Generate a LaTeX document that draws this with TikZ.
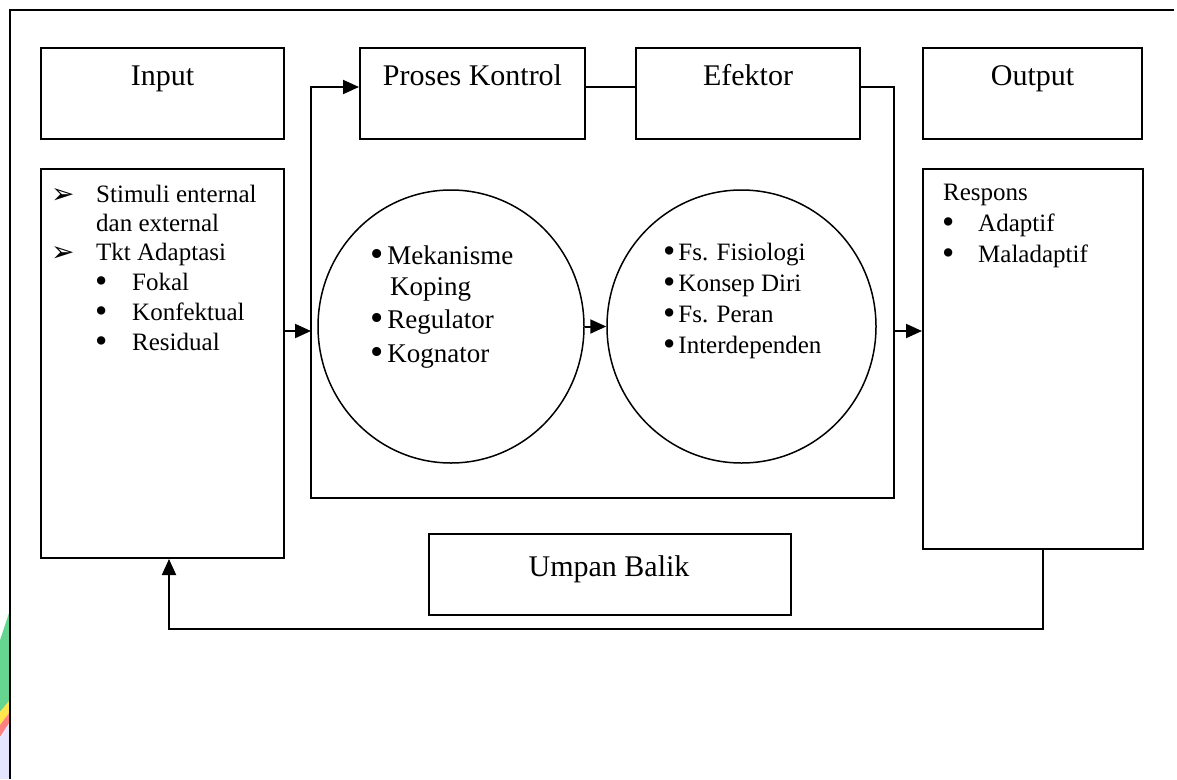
\documentclass[tikz,border=0pt]{standalone}
\usepackage{fontspec}
\setmainfont{Liberation Serif}
\newfontfamily\dejavu{DejaVu Sans}
\usetikzlibrary{arrows.meta,shapes.geometric,calc}
\newcommand{\bul}{\smash{\raisebox{-2.5pt}{\scalebox{1.4}{•}}}}
\begin{document}
\begin{tikzpicture}[x=1pt,y=-1pt,
  box/.style={draw,line width=2pt,rectangle,anchor=north west,inner sep=0pt},
  title/.style={font=\fontsize{30}{36}\selectfont,anchor=base,inner sep=0pt},
  txt/.style={font=\fontsize{25}{30}\selectfont,anchor=base west,inner sep=0pt},
  ctxt/.style={font=\fontsize{27}{32}\selectfont,anchor=base west,inner sep=0pt},
  arrowmark/.style={font=\dejavu\fontsize{28}{30}\selectfont,anchor=base west,inner sep=0pt},
  conn/.style={line width=2pt},
  arr/.style={conn,-{Triangle[length=16pt,width=14pt]}},
  bubble/.style={draw,ellipse,line width=1.5pt,inner sep=0pt}]
\useasboundingbox (0,0) rectangle (1177,779);
% watermark fragment at left edge
\begin{scope}
\clip (0,600) rectangle (9,779);
\fill[green!45!teal!60!white] (10,610) -- (10,700) -- (0,712) -- (0,640) -- cycle;
\fill[yellow!80!orange!70!white] (10,700) -- (10,712) -- (0,725) -- (0,712) -- cycle;
\fill[red!50!white] (10,712) -- (10,722) -- (0,737) -- (0,725) -- cycle;
\fill[blue!10!white] (10,722) -- (10,779) -- (0,779) -- (0,737) -- cycle;
\end{scope}
% outer frame (top and left edges)
\draw[conn] (1174,10) -- (10,10) -- (10,779);
% boxes
\node[box,minimum width=243pt,minimum height=91pt] (input) at (40,47) {};
\node[box,minimum width=243pt,minimum height=389pt] (inlist) at (40,168) {};
\node[box,minimum width=225pt,minimum height=91pt] (proses) at (359,47) {};
\node[box,minimum width=224pt,minimum height=91pt] (efektor) at (635,47) {};
\node[box,minimum width=219pt,minimum height=91pt] (output) at (922,47) {};
\node[box,minimum width=220pt,minimum height=380pt] (outlist) at (922,168) {};
\node[box,minimum width=362pt,minimum height=81pt] (umpan) at (428,533) {};
% titles
\node[title] (tin) at ($(input.north)+(0,38)$) {Input};
\node[title] (tpr) at ($(proses.north)+(0,38)$) {Proses Kontrol};
\node[title] (tef) at ($(efektor.north)+(0,38)$) {Efektor};
\node[title] (tout) at ($(output.north)+(0,38)$) {Output};
\node[title] (tub) at (609,576) {Umpan Balik};
% input list
\node[arrowmark] (m1) at (51,203) {➢};
\node[txt] (l1) at (96,202) {Stimuli enternal};
\node[txt] (l2) at (96,231) {dan external};
\node[arrowmark] (m2) at (51,261) {➢};
\node[txt] (l3) at (96,260) {Tkt Adaptasi};
\node[txt] (b1) at (95,290) {\bul};
\node[txt] (l4) at (132,290) {Fokal};
\node[txt] (b2) at (95,320) {\bul};
\node[txt] (l5) at (132,320) {Konfektual};
\node[txt] (b3) at (95,350) {\bul};
\node[txt] (l6) at (132,350) {Residual};
% output list
\node[txt] (r0) at (943,200) {Respons};
\node[txt] (rb1) at (942,231) {\bul};
\node[txt] (r1) at (978,231) {Adaptif};
\node[txt] (rb2) at (942,262) {\bul};
\node[txt] (r2) at (978,262) {Maladaptif};
% circles
\node[bubble,minimum width=266pt,minimum height=273pt] (c1) at (451,326.5) {};
\node[bubble,minimum width=269pt,minimum height=273pt] (c2) at (741.5,326.5) {};
\node[ctxt] (k1) at (370,264) {\bul\kern4pt Mekanisme};
\node[ctxt] (k2) at (390,295) {Koping};
\node[ctxt] (k3) at (370,328) {\bul\kern4pt Regulator};
\node[ctxt] (k4) at (370,362) {\bul\kern4pt Kognator};
\node[txt] (e1) at (663,260) {\bul\kern3pt Fs. Fisiologi};
\node[txt] (e2) at (663,291) {\bul\kern3pt Konsep Diri};
\node[txt] (e3) at (663,322) {\bul\kern3pt Fs. Peran};
\node[txt] (e4) at (663,353) {\bul\kern3pt Interdependen};
% helper coordinates
\coordinate (ly) at (0,87);
\coordinate (ay) at (0,331);
\coordinate (rbot) at (894,498);
\coordinate (ltop) at (311,87);
\coordinate (fb) at (1043,629);
\coordinate (fbl) at (169,629);
% connectors
\draw[conn] (proses.east |- ly) -- (efektor.west |- ly);
\draw[arr] (efektor.east |- ly) -| (rbot) -| (ltop) -- (proses.west |- ly);
\draw[arr] (inlist.east |- ay) -- (ltop |- ay);
\draw[arr] (c1.east) -- (c2.west);
\draw[arr] (rbot |- ay) -- (outlist.west |- ay);
\draw[arr] (outlist.south -| fb) |- (fbl) -- (inlist.south -| fbl);
\end{tikzpicture}
\end{document}
